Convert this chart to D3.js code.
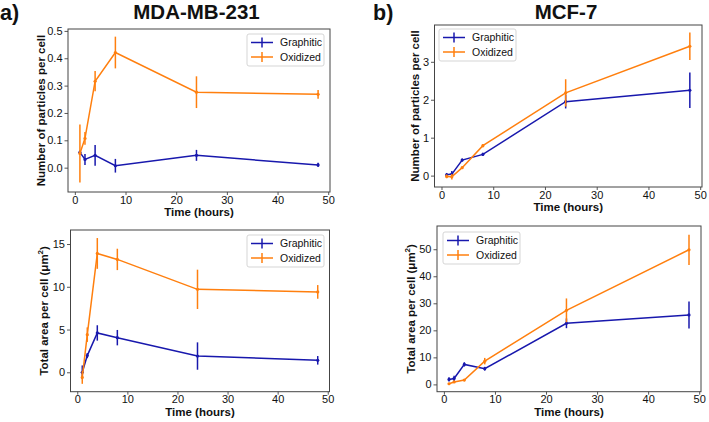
<!DOCTYPE html>
<html>
<head>
<meta charset="utf-8">
<script src="https://cdn.jsdelivr.net/npm/d3@7"></script>
<style>
  html, body { margin: 0; padding: 0; background: #fff; }
  svg { display: block; font-family: "Liberation Sans", Arial, sans-serif; }
</style>
</head>
<body>
<svg id="chart" width="709" height="422"></svg>
<script>
// ---------- data ----------
const times = [1, 2, 4, 8, 24, 48];
const seriesNames = ["Graphitic", "Oxidized"];
const xTicks = [0, 10, 20, 30, 40, 50];
const xLimits = [-1.35, 50.35];

// MDA-MB-231: particles per cell
const mdaCountGraphitic = [0.056, 0.030, 0.045, 0.007, 0.045, 0.010];
const mdaCountGraphiticErr = [0.008, 0.020, 0.038, 0.025, 0.020, 0.008];
const mdaCountOxidized = [0.052, 0.107, 0.316, 0.421, 0.276, 0.268];
const mdaCountOxidizedErr = [0.106, 0.023, 0.037, 0.058, 0.058, 0.016];
const mdaCountTicks = [0.0, 0.1, 0.2, 0.3, 0.4, 0.5];
const mdaCountLimits = [-0.089, 0.507];

// MCF-7: particles per cell
const mcfCountGraphitic = [0.02, 0.04, 0.41, 0.56, 1.95, 2.25];
const mcfCountGraphiticErr = [0.05, 0.08, 0.04, 0.04, 0.18, 0.47];
const mcfCountOxidized = [-0.02, -0.03, 0.21, 0.79, 2.18, 3.41];
const mcfCountOxidizedErr = [0.05, 0.07, 0.03, 0.04, 0.36, 0.36];
const mcfCountTicks = [0, 1, 2, 3];
const mcfCountLimits = [-0.30, 3.97];

// MDA-MB-231: total area per cell
const mdaAreaGraphitic = [0.0, 1.95, 4.6, 4.05, 1.9, 1.4];
const mdaAreaGraphiticErr = [0.8, 0.3, 0.9, 0.9, 1.6, 0.5];
const mdaAreaOxidized = [-0.6, 4.4, 13.9, 13.2, 9.7, 9.4];
const mdaAreaOxidizedErr = [0.75, 0.85, 1.8, 1.25, 2.3, 0.8];
const mdaAreaTicks = [0, 5, 10, 15];
const mdaAreaLimits = [-2.27, 16.64];

// MCF-7: total area per cell
const mcfAreaGraphitic = [1.85, 2.2, 7.4, 5.8, 22.6, 25.7];
const mcfAreaGraphiticErr = [0.8, 1.0, 0.8, 0.7, 1.8, 5.0];
const mcfAreaOxidized = [0.25, 0.9, 1.6, 8.6, 27.4, 49.8];
const mcfAreaOxidizedErr = [0.3, 0.4, 0.4, 1.2, 4.4, 5.6];
const mcfAreaTicks = [0, 10, 20, 30, 40, 50];
const mcfAreaLimits = [-2.7, 58.6];

const colors = ["#1818ad", "#ff7f0e"];

// ---------- layout ----------
const svg = d3.select("#chart");

const panels = [
  { L: 68, R: 330, T: 29, B: 192, g: mdaCountGraphitic, ge: mdaCountGraphiticErr, o: mdaCountOxidized, oe: mdaCountOxidizedErr,
    ticks: mdaCountTicks, lim: mdaCountLimits, fmt: d3.format(".1f"), ylab: "count", ylabX: 40.5, legend: { x: 247, y: 34 } },
  { L: 434.5, R: 702, T: 25, B: 187, g: mcfCountGraphitic, ge: mcfCountGraphiticErr, o: mcfCountOxidized, oe: mcfCountOxidizedErr,
    ticks: mcfCountTicks, lim: mcfCountLimits, fmt: d3.format("d"), ylab: "count", ylabX: 415, legend: { x: 439, y: 29 } },
  { L: 70.5, R: 329.5, T: 230, B: 391.7, g: mdaAreaGraphitic, ge: mdaAreaGraphiticErr, o: mdaAreaOxidized, oe: mdaAreaOxidizedErr,
    ticks: mdaAreaTicks, lim: mdaAreaLimits, fmt: d3.format("d"), ylab: "area", ylabX: 44, legend: { x: 247, y: 235 } },
  { L: 437, R: 701, T: 226, B: 391.7, g: mcfAreaGraphitic, ge: mcfAreaGraphiticErr, o: mcfAreaOxidized, oe: mcfAreaOxidizedErr,
    ticks: mcfAreaTicks, lim: mcfAreaLimits, fmt: d3.format("d"), ylab: "area", ylabX: 411, legend: { x: 443, y: 232 } }
];

const axisColor = "#444";
const tickFont = 11;

panels.forEach(p => {
  const x = d3.scaleLinear().domain(xLimits).range([p.L, p.R]);
  const y = d3.scaleLinear().domain(p.lim).range([p.B, p.T]);
  const g = svg.append("g");

  // axes
  const xa = g.append("g").attr("transform", `translate(0,${p.B})`)
    .call(d3.axisBottom(x).tickValues(xTicks).tickSize(3).tickPadding(1).tickFormat(d3.format("d")));
  const ya = g.append("g").attr("transform", `translate(${p.L},0)`)
    .call(d3.axisLeft(y).tickValues(p.ticks).tickSize(3.5).tickPadding(2).tickFormat(p.fmt));
  [xa, ya].forEach(a => {
    a.select(".domain").remove();
    a.selectAll(".tick line").attr("stroke", axisColor).attr("stroke-width", 0.9);
    a.selectAll(".tick text").attr("fill", "#111").style("font-size", tickFont + "px")
      .style("font-family", "'Liberation Sans', Arial, sans-serif");
  });

  // frame
  g.append("rect").attr("x", p.L).attr("y", p.T).attr("width", p.R - p.L).attr("height", p.B - p.T)
    .attr("fill", "none").attr("stroke", axisColor).attr("stroke-width", 1);

  // series
  const sets = [[p.g, p.ge], [p.o, p.oe]];
  sets.forEach(([vals, errs], si) => {
    const pts = times.map((t, i) => ({ t, v: vals[i], e: errs[i] }));
    const c = colors[si];
    g.append("path").datum(pts)
      .attr("fill", "none").attr("stroke", c).attr("stroke-width", 1.5)
      .attr("d", d3.line().x(d => x(d.t)).y(d => y(d.v)));
    g.selectAll(null).data(pts).enter().append("line")
      .attr("x1", d => x(d.t)).attr("x2", d => x(d.t))
      .attr("y1", d => y(d.v - d.e)).attr("y2", d => y(d.v + d.e))
      .attr("stroke", c).attr("stroke-width", 1.5);
    g.selectAll(null).data(pts).enter().append("circle")
      .attr("cx", d => x(d.t)).attr("cy", d => y(d.v)).attr("r", 1.6).attr("fill", c);
  });

  // x label
  g.append("text").attr("x", (p.L + p.R) / 2).attr("y", p.B + 24)
    .attr("text-anchor", "middle").attr("font-weight", "bold").attr("font-size", 11.5).attr("fill", "#111")
    .text("Time (hours)");

  // y label
  const yl = g.append("text")
    .attr("transform", `translate(${p.ylabX + 4},${(p.T + p.B) / 2}) rotate(-90)`)
    .attr("text-anchor", "middle").attr("font-weight", "bold").attr("font-size", 11.5).attr("fill", "#111");
  if (p.ylab === "count") {
    yl.text("Number of particles per cell");
  } else {
    yl.append("tspan").text("Total area per cell (μm");
    yl.append("tspan").attr("font-size", 8).attr("dy", -5).text("2");
    yl.append("tspan").attr("dy", 5).text(")");
  }

  // legend
  const lg = g.append("g").attr("transform", `translate(${p.legend.x},${p.legend.y})`);
  lg.append("rect").attr("x", 0).attr("y", 0).attr("width", 77).attr("height", 32).attr("rx", 2)
    .attr("fill", "#fff").attr("fill-opacity", 0.85).attr("stroke", "#d0d0d0").attr("stroke-width", 0.9);
  seriesNames.forEach((name, i) => {
    const cy = 8.5 + i * 14.5;
    lg.append("line").attr("x1", 4).attr("x2", 26).attr("y1", cy).attr("y2", cy)
      .attr("stroke", colors[i]).attr("stroke-width", 1.5);
    lg.append("line").attr("x1", 15).attr("x2", 15).attr("y1", cy - 5).attr("y2", cy + 5)
      .attr("stroke", colors[i]).attr("stroke-width", 1.5);
    lg.append("text").attr("x", 33).attr("y", cy + 3.8).attr("font-size", 10.5).attr("fill", "#111").text(name);
  });
});

// titles
svg.append("text").attr("x", 0).attr("y", 20).attr("font-weight", "bold").attr("font-size", 21.5).attr("fill", "#111").text("a)");
svg.append("text").attr("x", 373).attr("y", 20).attr("font-weight", "bold").attr("font-size", 21.5).attr("fill", "#111").text("b)");
svg.append("text").attr("x", 196.5).attr("y", 18.5).attr("text-anchor", "middle").attr("font-weight", "bold").attr("font-size", 20.5).attr("fill", "#111").text("MDA-MB-231");
svg.append("text").attr("x", 566).attr("y", 18.5).attr("text-anchor", "middle").attr("font-weight", "bold").attr("font-size", 20.5).attr("fill", "#111").text("MCF-7");
</script>
</body>
</html>
